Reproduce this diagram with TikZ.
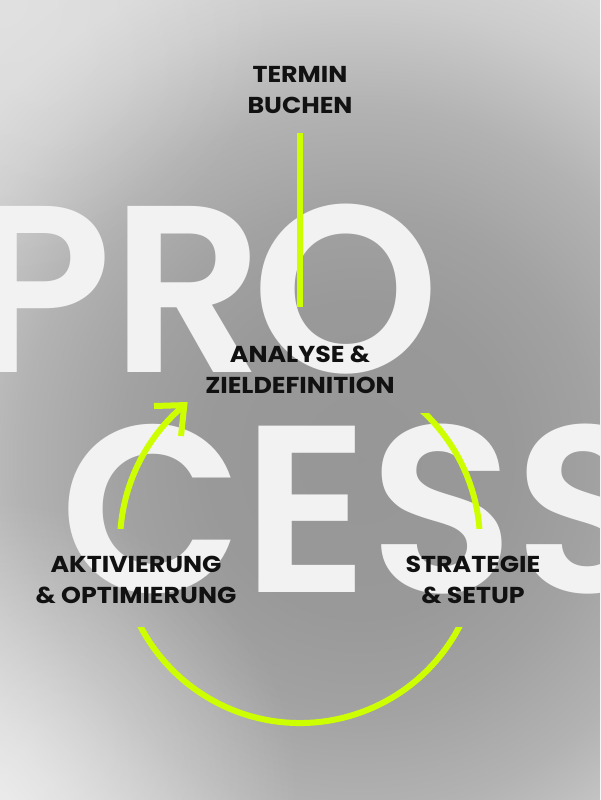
\documentclass[tikz,border=0pt]{standalone}
\usepackage{fontspec}
\setmainfont{Poppins}
\newfontfamily\bigfont{Poppins SemiBold}
\newfontfamily\lblfont{Poppins}[FakeStretch=1.1]
\usetikzlibrary{fadings}
\definecolor{lime}{RGB}{206,255,0}
\definecolor{letterw}{RGB}{242,242,242}
\definecolor{ink}{RGB}{17,17,17}
\definecolor{bgout}{rgb}{0.84,0.84,0.84}
\pgfdeclareradialshading{bgshade}{\pgfpoint{0bp}{0bp}}{rgb(0bp)=(0.59,0.59,0.59); rgb(7.5bp)=(0.60,0.60,0.60); rgb(12bp)=(0.635,0.635,0.635); rgb(17bp)=(0.70,0.70,0.70); rgb(22bp)=(0.80,0.80,0.80); rgb(25bp)=(0.84,0.84,0.84); rgb(50bp)=(0.86,0.86,0.86)}
\tikzfading[name=glowfade, inner color=transparent!0, outer color=transparent!100]
\begin{document}
\begin{tikzpicture}[x=1pt,y=-1pt,
  lbl/.style={font=\lblfont\bfseries\fontsize{23}{31}\selectfont, text=ink, align=center, inner sep=0pt},
  big/.style={font=\bigfont\fontsize{238}{238}\selectfont, text=letterw, inner sep=0pt},
  ring/.style={draw=lime, line width=6pt}]
\useasboundingbox (0,0) rectangle (600,800);
\begin{scope}
  \clip (0,0) rectangle (600,800);
  \fill[bgout] (0,0) rectangle (600,800);
  \shade[shading=bgshade] (-140,-60) rectangle (860,980);
  \fill[white, opacity=0.55, path fading=glowfade] (0,800) circle[radius=300pt];
  \fill[white, opacity=0.25, path fading=glowfade] (0,0) circle[radius=280pt];
  \node[big, anchor=base west] (pro) at (-33,372) {PR\kern-12pt O};
  \node[big, anchor=base west] (cess) at (60,592) {CESS};
\end{scope}
% labels
\node[lbl, anchor=base] (termin) at (300,113) {TERMIN\\BUCHEN};
\node[lbl, anchor=base] (analyse) at (300,393) {ANALYSE \&\\ZIELDEFINITION};
\node[lbl, anchor=base] (aktiv) at (136,603) {AKTIVIERUNG\\\& OPTIMIERUNG};
\node[lbl, anchor=base] (strat) at (473,603) {STRATEGIE\\\& SETUP};
% vertical connector
\draw[ring, shorten <=20pt, shorten >=38pt] (termin.south) -- (termin.south |- analyse.north);
% ring segments
\begin{scope}
  \clip (0,627) rectangle (600,800);
  \draw[ring] (300,543) ++(195:180pt) arc[start angle=195, end angle=345, radius=180pt];
\end{scope}
\begin{scope}
  \clip (300,413) rectangle (600,528);
  \draw[ring] (300,543) ++(-5:180pt) arc[start angle=-5, end angle=60, radius=180pt];
\end{scope}
\begin{scope}
  \clip (0,380) rectangle (300,528);
  \draw[ring] (300,543) ++(185:180pt) arc[start angle=185, end angle=130, radius=180pt];
\end{scope}
\coordinate (tip) at (184.3,405.1);
\draw[ring, line join=miter] (154,406) -- (tip) -- (181,436);
\end{tikzpicture}
\end{document}
